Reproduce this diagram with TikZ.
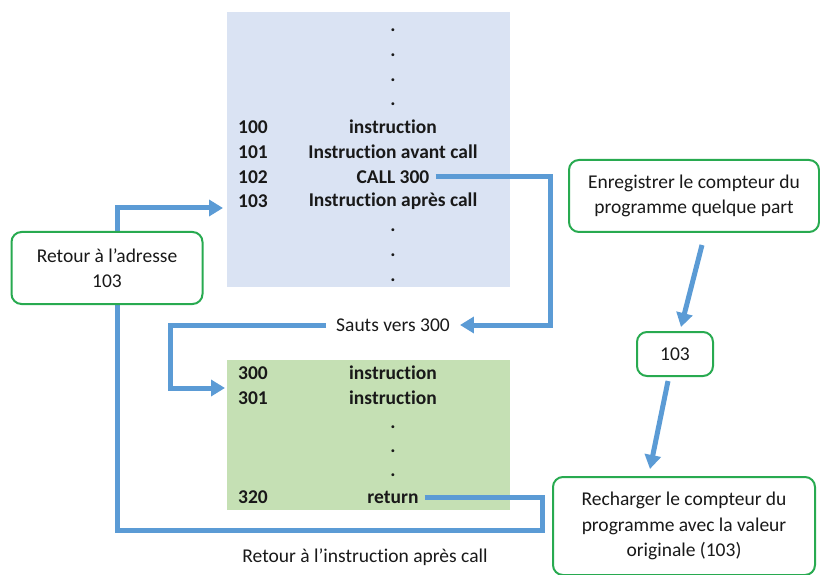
\documentclass[tikz,border=0pt]{standalone}
\usepackage{fontspec}
\setmainfont[Ligatures=NoCommon]{Carlito}
\usetikzlibrary{arrows.meta,positioning}
\definecolor{memblue}{RGB}{218,227,243}
\definecolor{subgreen}{RGB}{197,224,180}
\definecolor{flowblue}{RGB}{91,155,213}
\definecolor{boxgreen}{RGB}{40,170,80}
\definecolor{txt}{RGB}{25,25,25}

\tikzset{
  flow/.style={flowblue, line width=5pt, -{Triangle[length=14pt,width=16pt]}},
  note/.style={draw=boxgreen, line width=2pt, rounded corners=10pt, fill=white,
    align=center, text=txt, font=\fontsize{19.5}{25.5}\selectfont},
  addr/.style={anchor=west, inner sep=0pt, text=txt, font=\bfseries\fontsize{19.5}{23}\selectfont},
  instr/.style={inner sep=0pt, text=txt, font=\bfseries\fontsize{19.5}{23}\selectfont},
  plain/.style={text=txt, font=\fontsize{19.5}{23}\selectfont},
}

\begin{document}
\begin{tikzpicture}[x=1pt, y=-1pt]
    \useasboundingbox (0,0) rectangle (820,575);

    % memory blocks
    \node[fill=memblue, inner sep=0pt, minimum width=283pt, minimum height=275pt] (mem) at (368.5,149.5) {};
    \node[fill=subgreen, inner sep=0pt, minimum width=283pt, minimum height=150pt] (sub) at (368.5,435) {};

    % main program
    \foreach \y in {30,55,80,104,230,255,280}
        \node[instr] at (393,\y) {.};
    \node[addr] (a100) at (238,127) {100};
    \node[addr] (a101) at (238,152) {101};
    \node[addr] (a102) at (238,177) {102};
    \node[addr] (a103) at (238,201) {103};
    \node[instr] (i100) at (393,127) {instruction};
    \node[instr] (i101) at (393,152) {Instruction avant call};
    \node[instr] (call) at (393,177) {CALL 300};
    \node[instr] (i103) at (393,201) {Instruction après call};

    % subroutine
    \foreach \y in {427,451,475}
        \node[instr] at (393,\y) {.};
    \node[addr] (a300) at (238,373) {300};
    \node[addr] (a301) at (238,398) {301};
    \node[addr] (a320) at (238,497) {320};
    \node[instr] (i300) at (393,373) {instruction};
    \node[instr] (i301) at (393,398) {instruction};
    \node[instr] (ret) at (393,497) {return};

    % labels on the paths
    \node[plain, inner xsep=10pt] (sauts) at (393,325) {Sauts vers 300};
    \node[plain] (back) at (365,557) {Retour à l’instruction après call};

    \coordinate (in300) at (225,388);
    \coordinate (in103) at (223,208);

    % jumps
    \draw[flow] ([xshift=6pt]call.east) -| (550,325) -- (sauts.east);
    \draw[flow] (sauts.west) -| (170,388) -- (in300);
    \draw[flow] ([xshift=6pt]ret.east) -| (542,530) -| (117,208) -- (in103);

    % notes
    \node[note, minimum width=191pt, minimum height=72pt] (retour) at (107,268) {Retour à l’adresse\\103};
    \node[note, minimum width=250pt, minimum height=72pt] (enr) at (694,196) {Enregistrer le compteur du\\programme quelque part};
    \node[note, minimum width=76pt, minimum height=44pt] (pc) at (675,354) {103};
    \node[note, minimum width=262pt, minimum height=98pt] (rech) at (684,526) {Recharger le compteur du\\programme avec la valeur\\originale (103)};

    \draw[flow] ([xshift=8pt,yshift=-12pt]enr.south) -- ([xshift=6pt,yshift=4pt]pc.north);
    \draw[flow] ([xshift=-7pt,yshift=-4pt]pc.south) -- ([xshift=-34pt,yshift=7pt]rech.north);
\end{tikzpicture}
\end{document}
